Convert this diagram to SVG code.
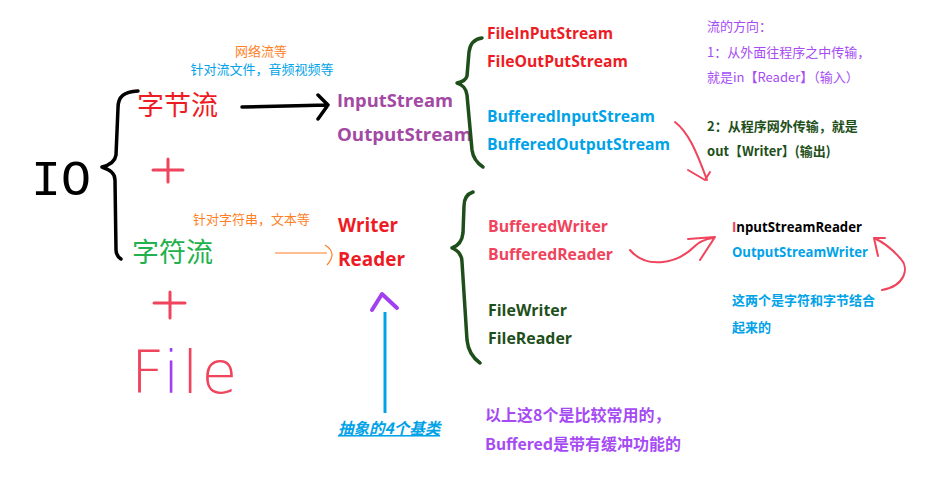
<svg xmlns="http://www.w3.org/2000/svg" width="950" height="479" viewBox="0 0 950 479">
<style>
.cjk{font-family:"Noto Sans CJK SC","Microsoft YaHei",sans-serif}
.lat{font-family:"Open Sans","Noto Sans CJK SC",sans-serif;font-weight:bold}
.brace{fill:none;stroke-width:3.5;stroke-linecap:round;stroke-linejoin:round}
.hand{fill:none;stroke:#F0435C;stroke-width:2;stroke-linecap:round;stroke-linejoin:round}
.plus{fill:none;stroke:#F0435C;stroke-width:3;stroke-linecap:round}
</style>
<rect width="950" height="479" fill="#fff"/>
<g id="io">
<text x="31" y="195" font-family="Liberation Mono,monospace" font-size="50" fill="#000">IO</text>
<path class="brace" stroke="#000" d="M138,91 C124,92 118,96 118,108 L116,155 C115,162 110,165 102,167 C110,170 115,173 115,180 L116,250 C116,254 118,257 121,259"/>
</g>
<g id="byte-stream">
<text class="cjk" x="137" y="115" font-size="27" fill="#ED1C24">字节流</text>
<text class="cjk" x="261" y="56" font-size="13" fill="#FF7F27" text-anchor="middle">网络流等</text>
<text class="cjk" x="262" y="74" font-size="13" fill="#00A2E8" text-anchor="middle">针对流文件，音频视频等</text>
</g>
<g id="plus1"><path class="plus" d="M153,170 L183,170 M168,159 L168,182"/></g>
<g id="char-stream">
<text class="cjk" x="132" y="262" font-size="27" fill="#22B14C">字符流</text>
<text class="cjk" x="193" y="224" font-size="13" fill="#FF7F27">针对字符串，文本等</text>
</g>
<g id="plus2"><path class="plus" d="M154,303 L185,303 M170,292 L170,318"/></g>
<g id="file">
<text x="131" y="393" font-family="DejaVu Sans,sans-serif" font-weight="200" font-size="58" letter-spacing="3" fill="#F0435C">F<tspan fill="#A040F0">i</tspan>le</text>
</g>
<g id="byte-base">
<text class="lat" x="337" y="107" font-size="18" fill="#A349A4" textLength="116" lengthAdjust="spacingAndGlyphs">InputStream</text>
<text class="lat" x="337" y="141" font-size="18" fill="#A349A4" textLength="135" lengthAdjust="spacingAndGlyphs">OutputStream</text>
</g>
<g id="byte-impl">
<path class="brace" stroke="#1E4F1A" d="M482,38 C474,39 470,44 469,52 L467,76 C466,80 462,82 457,83 C463,85 466,88 467,95 L472,150 C473,158 477,163 483,167"/>
<text class="lat" x="487" y="39" font-size="16.5" fill="#ED1C24" textLength="126" lengthAdjust="spacingAndGlyphs">FileInPutStream</text>
<text class="lat" x="487" y="67" font-size="16.5" fill="#ED1C24" textLength="141" lengthAdjust="spacingAndGlyphs">FileOutPutStream</text>
<text class="lat" x="487" y="122" font-size="16.5" fill="#00A2E8" textLength="168" lengthAdjust="spacingAndGlyphs">BufferedInputStream</text>
<text class="lat" x="487" y="150" font-size="16.5" fill="#00A2E8" textLength="183" lengthAdjust="spacingAndGlyphs">BufferedOutputStream</text>
</g>
<g id="direction-note">
<text class="cjk" x="707" y="31" font-size="13" fill="#A64BF4">流的方向：</text>
<text class="cjk" x="707" y="57" font-size="13" fill="#A64BF4">1：从外面往程序之中传输，</text>
<text class="cjk" x="707" y="82" font-size="13" fill="#A64BF4">就是in【Reader】（输入）</text>
<text class="cjk" x="707" y="131" font-size="13" font-weight="bold" fill="#1E4F1A">2：从程序网外传输，就是</text>
<text class="cjk" x="707" y="156" font-size="13" font-weight="bold" fill="#1E4F1A">out【Writer】(输出)</text>
</g>
<g id="char-base">
<text class="lat" x="338" y="232" font-size="19" fill="#ED1C24" textLength="60" lengthAdjust="spacingAndGlyphs">Writer</text>
<text class="lat" x="338" y="266" font-size="19" fill="#ED1C24" textLength="67" lengthAdjust="spacingAndGlyphs">Reader</text>
</g>
<g id="char-impl">
<path class="brace" stroke="#1E4F1A" d="M473,192 C467,194 464,199 464,206 L463,233 C462,242 458,246 452,248 C459,251 462,255 462,262 L467,340 C468,350 473,358 480,363"/>
<text class="lat" x="488" y="232" font-size="16.5" fill="#F0435C" textLength="120" lengthAdjust="spacingAndGlyphs">BufferedWriter</text>
<text class="lat" x="488" y="260" font-size="16.5" fill="#F0435C" textLength="125" lengthAdjust="spacingAndGlyphs">BufferedReader</text>
<text class="lat" x="488" y="316" font-size="16.5" fill="#1E4F1A" textLength="79" lengthAdjust="spacingAndGlyphs">FileWriter</text>
<text class="lat" x="488" y="344" font-size="16.5" fill="#1E4F1A" textLength="84" lengthAdjust="spacingAndGlyphs">FileReader</text>
</g>
<g id="bridge">
<text class="lat" x="732" y="232" font-size="14" fill="#000" textLength="130" lengthAdjust="spacingAndGlyphs"><tspan fill="#F0435C">I</tspan>nputStreamReader</text>
<text class="lat" x="732" y="257" font-size="14" fill="#00A2E8" textLength="136" lengthAdjust="spacingAndGlyphs">OutputStreamWriter</text>
<text class="cjk" x="732" y="305" font-size="13" font-weight="bold" fill="#00A2E8">这两个是字符和字节结合</text>
<text class="cjk" x="732" y="332" font-size="13" font-weight="bold" fill="#00A2E8">起来的</text>
</g>
<g id="abstract-note">
<text class="cjk" x="338" y="434" font-size="15.5" font-style="italic" font-weight="bold" fill="#00A2E8" text-decoration="underline">抽象的4个基类</text>
</g>
<g id="common-note">
<text class="cjk" x="485" y="421" font-size="16" font-weight="bold" fill="#A64BF4">以上这8个是比较常用的，</text>
<text class="cjk" x="485" y="450" font-size="16" font-weight="bold" fill="#A64BF4">Buffered是带有缓冲功能的</text>
</g>
<g id="connectors">
<path d="M242,107 L328,105 M318,95 L328,105 L318,119" fill="none" stroke="#000" stroke-width="3.5" stroke-linecap="round" stroke-linejoin="round"/>
<path d="M275,253 L327,253 M325,245 Q338,253 327,265" fill="none" stroke="#FF7F27" stroke-width="1.2"/>
<path class="hand" d="M675,122 C688,132 696,150 707,180 M688,170 L705,180 L710,172"/>
<path class="hand" d="M630,250 C645,268 675,266 695,246 C700,241 706,239 713,238 M688,239 L715,237 L700,260"/>
<path class="hand" d="M882,290 C905,286 910,268 900,258 C893,250 885,243 874,238 M874,238 L885,238 M874,238 L878,256"/>
<path d="M385,312 L385,413" stroke="#00A2E8" stroke-width="3" fill="none"/>
<path d="M372,310 L382,294 L397,308" stroke="#A040F0" stroke-width="4" fill="none" stroke-linecap="round" stroke-linejoin="round"/>
</g>
</svg>
